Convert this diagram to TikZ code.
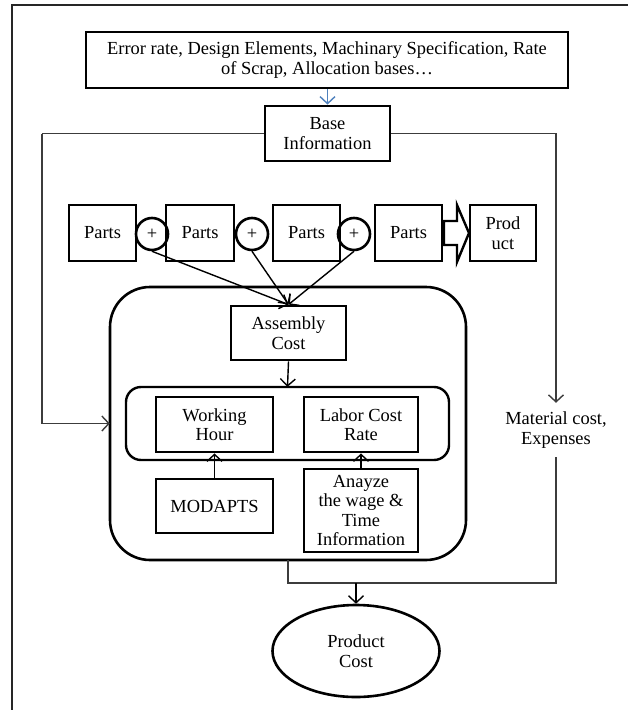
\documentclass[tikz,border=0pt]{standalone}
\usepackage{fontspec}
\setmainfont{Liberation Serif}
\usetikzlibrary{arrows.meta,shapes.geometric}
\newcommand{\myfs}{\fontsize{18.5}{19.5}\selectfont}
\definecolor{blueline}{RGB}{79,129,189}
\definecolor{thingray}{RGB}{60,60,60}
\tikzset{
  box/.style={draw, line width=2.9bp, inner sep=0pt, align=center, font=\myfs},
  ring/.style={draw, circle, line width=2.6bp, inner sep=0pt, minimum size=32bp, font=\myfs},
  conn/.style={line width=1.4bp},
  barb/.style={-{Straight Barb[length=7bp,width=15bp,line width=1.4bp]}},
  arr/.style={conn, barb},
  loopline/.style={line width=1.2bp, draw=thingray},
  frame/.style={line width=2.2bp, draw=black!85},
}
\begin{document}
\begin{tikzpicture}[x=1bp,y=-1bp]
\useasboundingbox (0,0) rectangle (628,710);
\fill[white] (0,0) rectangle (628,710);
% outer frame (cut off at right and bottom)
\draw[frame] (12,720) -- (12,5) -- (640,5);

% top information box
\node[box, minimum width=482bp, minimum height=56bp] (top) at (327,60)
  {Error rate, Design Elements, Machinary Specification, Rate\\of Scrap, Allocation bases\ldots};
\node[box, minimum width=125bp, minimum height=55bp] (base) at (327.5,133.5) {Base\\Information};
\draw[line width=1.2bp, draw=blueline, barb] (top.south -| base.north) -- (base.north);

% parts row
\node[box, minimum width=67bp, minimum height=56bp] (p1) at (102.5,233) {Parts};
\node[box, minimum width=68bp, minimum height=56bp] (p2) at (200,233) {Parts};
\node[box, minimum width=67bp, minimum height=56bp] (p3) at (306.5,233) {Parts};
\node[box, minimum width=67bp, minimum height=56bp] (p4) at (408.5,233) {Parts};
\node[box, minimum width=66bp, minimum height=56bp] (prod) at (503,233) {Prod\\uct};
\node[ring] (c1) at (152,234) {+};
\node[ring] (c2) at (252,234) {+};
\node[ring] (c3) at (354,234) {+};
% hollow block arrow from last parts to product
\draw[line width=2.4bp, line join=miter]
  (444,221) -- (457,221) -- (457,205) -- (469,233) -- (457,262) -- (457,245) -- (444,245) -- cycle;

% assembly block
\draw[line width=2.6bp, rounded corners=40bp] (110,287) rectangle (466,560);
\node[inner sep=0pt, minimum width=356bp, minimum height=273bp] (bigbox) at (288,423.5) {};
\node[box, minimum width=115bp, minimum height=54bp] (asm) at (288.5,333) {Assembly\\Cost};
\draw[line width=2.4bp, rounded corners=15bp] (126,387) rectangle (449,460);
\node[inner sep=0pt, minimum width=323bp, minimum height=73bp] (inner) at (287.5,423.5) {};
\node[box, minimum width=117bp, minimum height=55bp] (wh) at (214.5,424.5) {Working\\Hour};
\node[box, minimum width=114bp, minimum height=55bp] (lcr) at (361,424.5) {Labor Cost\\Rate};
\node[box, minimum width=117bp, minimum height=54bp] (mod) at (214.5,506) {MODAPTS};
\node[box, minimum width=114bp, minimum height=83bp] (ana) at (361,510.5) {Anayze\\the wage \&\\Time\\Information};

% product cost
\node[draw, ellipse, line width=2.6bp, inner sep=0pt, minimum width=167bp, minimum height=92bp,
  align=center, font=\myfs] (pc) at (356,651) {Product\\Cost};
\node[inner sep=0pt, minimum height=54bp, align=center, font=\myfs] (mat) at (556,430) {Material cost,\\Expenses};

% connectors
\draw[arr] (c1.south) -- (asm.north);
\draw[arr] (c2.south) -- (asm.north);
\draw[arr] (c3.south) -- (asm.north);
\draw[arr] (asm.south) -- (inner.north);
\draw[arr] (mod.north) -- (wh.south);
\draw[arr] (ana.north) -- (lcr.south);
\coordinate (lc) at (42,133.5);
\draw[loopline] (base.west) -- (lc);
\draw[loopline, barb] (lc) |- (bigbox.west);
\draw[loopline, barb] (base.east) -| (mat.north);
\coordinate (jn) at (288,583);
\draw[loopline] (bigbox.south) -- (jn) -| (mat.south);
\draw[arr] (jn -| pc.north) -- (pc.north);
\end{tikzpicture}
\end{document}
